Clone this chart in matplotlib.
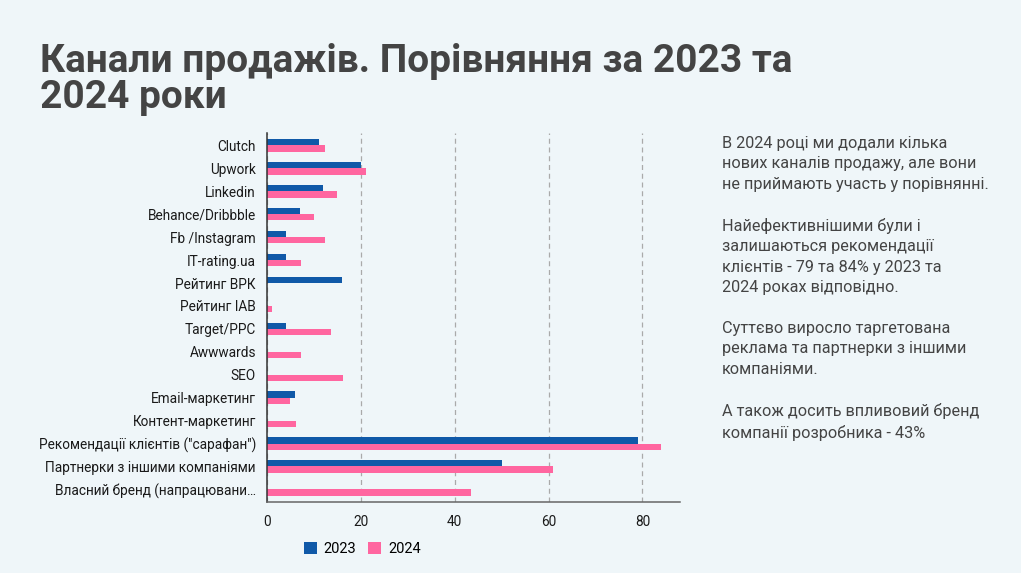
import numpy as np
import matplotlib
matplotlib.use("Agg")
from matplotlib import pyplot as plt

channels = ["Clutch", "Upwork", "Linkedin", "Behance/Dribbble", "Fb /Instagram",
            "IT-rating.ua", "Рейтинг ВРК", "Рейтинг IAB", "Target/PPC", "Awwwards",
            "SEO", "Email-маркетинг", "Контент-маркетинг",
            "Рекомендації клієнтів (\"сарафан\")", "Партнерки з іншими компаніями",
            "Власний бренд (напрацювани\u2026"]
y2023 = [11, 20, 12, 7, 4, 4, 16, 0, 4, 0, 0, 6, 0, 79, 50, 0]
y2024 = [12.4, 21, 15, 10, 12.4, 7.3, 0, 1.1, 13.6, 7.3, 16.2, 4.9, 6.2, 84, 61, 43.5]
x_ticks = [0, 20, 40, 60, 80]

bg = "#eff6f9"
c23 = "#1059a8"
c24 = "#ff66a0"
txt = "#444444"

plt.rcParams['font.family'] = ['Roboto', 'DejaVu Sans']

fig = plt.figure(figsize=(10.21, 5.73), dpi=100, facecolor=bg)
ax = fig.add_axes([0.2615, 0.1239, 0.4045, 0.6442], facecolor=bg)

pos = np.arange(len(channels))
h = 0.27
ax.barh(pos - h/2, y2023, height=h, color=c23, label="2023")
ax.barh(pos + h/2, y2024, height=h, color=c24, label="2024")

ax.set_ylim(len(channels) - 0.45, -0.55)
ax.set_xlim(0, 88)
ax.set_yticks(pos)
ax.set_yticklabels(channels, fontsize=9.8, color="#1a1a1a")
ax.set_xticks(x_ticks)
ax.set_xticklabels([str(t) for t in x_ticks], fontsize=9.8, color="#1a1a1a")
ax.tick_params(axis='both', length=0, pad=8)
ax.tick_params(axis='x', pad=9)
ax.xaxis.grid(True, linestyle=(0, (4, 3)), color="#aaaaaa", linewidth=0.9)
ax.set_axisbelow(True)
for s in ["top", "right"]:
    ax.spines[s].set_visible(False)
ax.spines["left"].set_color("#333333")
ax.spines["bottom"].set_color("#666666")
ax.spines["left"].set_linewidth(1.1)
ax.spines["bottom"].set_linewidth(1.1)

fig.legend(loc="center", bbox_to_anchor=(0.355, 0.042), ncol=2, frameon=False,
           fontsize=10.5, handlelength=0.85, handleheight=0.85, columnspacing=0.8,
           handletextpad=0.5)

fig.text(0.039, 1 - 108 / 573, "Канали продажів. Порівняння за 2023 та\n2024 роки",
         fontsize=28, fontweight="bold", color=txt, va="baseline",
         linespacing=0.98)

note = ("В 2024 році ми додали кілька\n"
        "нових каналів продажу, але вони\n"
        "не приймають участь у порівнянні.\n"
        "\n"
        "Найефективнішими були і\n"
        "залишаються рекомендації\n"
        "клієнтів - 79 та 84% у 2023 та\n"
        "2024 роках відповідно.\n"
        "\n"
        "Суттєво виросло таргетована\n"
        "реклама та партнерки з іншими\n"
        "компаніями.\n"
        "\n"
        "А також досить впливовий бренд\n"
        "компанії розробника - 43%")
fig.text(0.707, 0.763, note, fontsize=11.7, color=txt, va="top", linespacing=1.45)

fig.savefig("out.png", dpi=100, facecolor=bg)
